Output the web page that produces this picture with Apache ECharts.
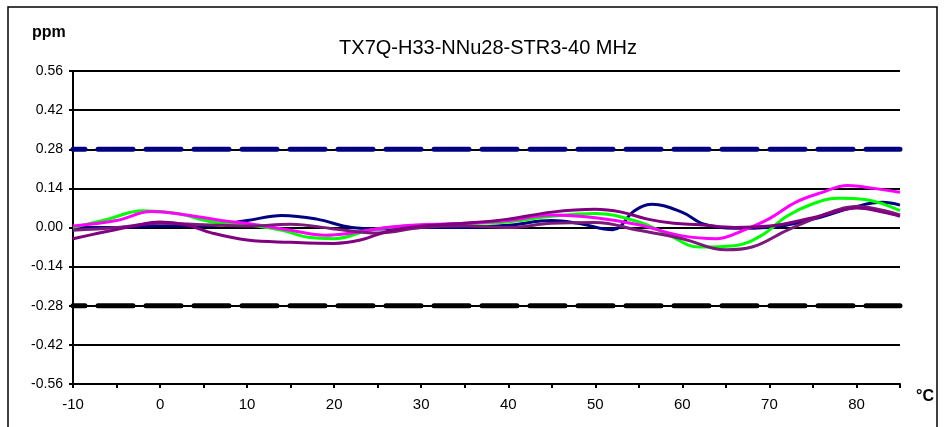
<!DOCTYPE html>
<html><head><meta charset="utf-8">
<script src="https://cdn.jsdelivr.net/npm/echarts@6/dist/echarts.min.js"></script>
<style>html,body{margin:0;padding:0;background:#fff}#c{width:945px;height:427px}</style>
</head><body><div id="c"></div>
<script>
const title = 'TX7Q-H33-NNu28-STR3-40 MHz';
const yUnit = 'ppm';
const xUnit = '°C';
const upperLimit = 0.28;
const lowerLimit = -0.28;
const navy = [[-10,0],[-5,0],[0,0.005],[5,0.005],[10,0.025],[14,0.043],[18,0.03],[22,0.0],[25,-0.005],[30,0.0],[35,0.0],[40,0.008],[45,0.025],[48,0.015],[52,-0.008],[54.5,0.06],[56.5,0.083],[60,0.054],[62.5,0.012],[66,-0.003],[70,0.0],[75,0.03],[80,0.075],[83,0.09],[85,0.08]];
const green = [[-10,0.0],[-6,0.03],[-2,0.06],[2,0.05],[6,0.02],[10,0.01],[14,-0.01],[17,-0.035],[20,-0.04],[24,-0.01],[28,0.005],[32,0.01],[36,0.015],[40,0.02],[45,0.04],[50,0.05],[55,0.02],[58,-0.02],[62,-0.07],[66,-0.065],[69,-0.03],[72,0.04],[75,0.085],[78,0.105],[81,0.1],[85,0.06]];
const magenta = [[-10,0.005],[-5,0.025],[-1,0.057],[3,0.045],[7,0.025],[11,0.01],[15,-0.01],[19,-0.028],[22,-0.02],[26,0.0],[30,0.01],[35,0.015],[40,0.025],[45,0.045],[50,0.035],[55,0.01],[60,-0.03],[64,-0.04],[67,-0.01],[70,0.032],[73,0.09],[76,0.125],[79,0.15],[82,0.14],[85,0.126]];
const purpleA = [[-10,-0.04],[-7,-0.02],[-3,0.005],[0,0.02],[3,0.01],[6,-0.02],[10,-0.045],[15,-0.053],[20,-0.057],[23,-0.045],[26,-0.015],[30,0.005],[35,0.015],[40,0.03],[45,0.055],[50,0.065],[53,0.055],[56,0.03],[59,0.015],[62,0.01],[66,0.0],[70,0.005],[75,0.035],[78,0.06],[80,0.07],[83,0.055],[85,0.04]];
const purpleB = [[-10,-0.01],[-5,0.0],[0,0.015],[5,0.01],[10,0.005],[15,0.012],[20,-0.005],[25,-0.02],[30,0.0],[35,0.005],[40,0.0],[45,0.015],[50,0.018],[55,-0.01],[60,-0.04],[65,-0.08],[68,-0.07],[72,-0.01],[75,0.03],[78,0.065],[80,0.075],[85,0.045]];

const chart = echarts.init(document.getElementById('c'), null, {renderer:'canvas'});
const font = 'Liberation Sans, Arial, sans-serif';
function curve(name, data, color){
  return {name, type:'line', data, smooth:0.4, symbol:'none', lineStyle:{color, width:3}, z:3};
}
function limit(name, v, color){
  return {name, type:'line', data:[[-10,v],[85,v]], symbol:'none', z:2,
    lineStyle:{color, width:5, type:[35,13], dashOffset:23, cap:'round'}};
}
chart.setOption({
  animation:false,
  backgroundColor:'#fff',
  title:{text:title, left:483, top:33, textAlign:'center', textStyle:{fontFamily:font, fontSize:20, fontWeight:'normal', color:'#000'}},
  graphic:[
    {type:'rect', shape:{x:8,y:7,width:929,height:440}, style:{fill:'none', stroke:'#000', lineWidth:1.5}, silent:true},
    {type:'text', left:32, top:25, style:{text:yUnit, font:'bold 16px '+font, fill:'#000'}},
    {type:'text', left:916, top:389, style:{text:xUnit, font:'bold 16px '+font, fill:'#000'}}
  ],
  grid:{left:73, right:45, top:71, bottom:43},
  xAxis:{type:'value', min:-10, max:85, interval:5,
    axisLine:{onZero:false, lineStyle:{color:'#000', width:2}},
    axisTick:{length:4, lineStyle:{color:'#000', width:2}},
    axisLabel:{color:'#000', fontFamily:font, fontSize:15, margin:13,
      formatter:v=> (Math.round(v)%10===0 ? String(v) : '')},
    splitLine:{show:false}},
  yAxis:{type:'value', min:-0.56, max:0.56, interval:0.14,
    axisLine:{show:true, onZero:false, lineStyle:{color:'#000', width:2}},
    axisTick:{show:true, length:4, lineStyle:{color:'#000', width:2}},
    axisLabel:{color:'#000', fontFamily:font, fontSize:14, margin:10, formatter:v=>v.toFixed(2)},
    splitLine:{show:true, lineStyle:{color:'#000', width:2}}},
  series:[
    limit('upper', upperLimit, '#000080'),
    limit('lower', lowerLimit, '#000000'),
    curve('s1', navy, '#000080'),
    curve('s2', green, '#00ff00'),
    curve('s3', magenta, '#ff00ff'),
    curve('s4', purpleB, '#7a1a7a'),
    curve('s5', purpleA, '#800080')
  ]
});
</script></body></html>
